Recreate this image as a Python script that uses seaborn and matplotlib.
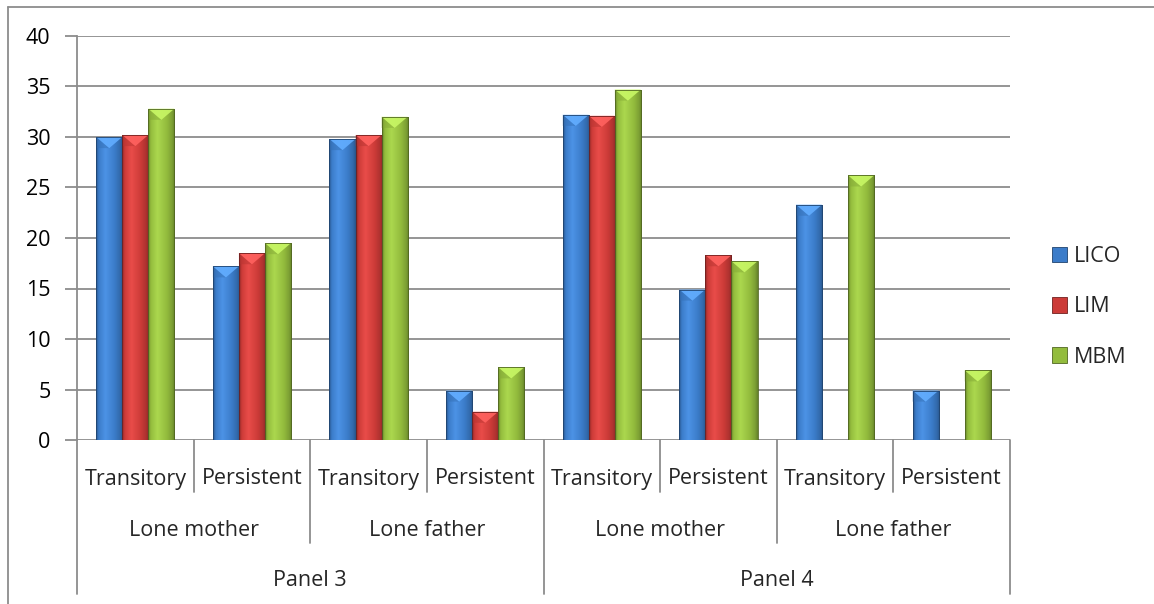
import numpy as np
import pandas as pd
import matplotlib
matplotlib.use("Agg")
import matplotlib.pyplot as plt
import seaborn as sns
from matplotlib.patches import Polygon, Patch
from matplotlib.lines import Line2D
from matplotlib.colors import LinearSegmentedColormap, to_rgb
import matplotlib.transforms as mtransforms

# --- data -----------------------------------------------------------------
panels = ["Panel 3", "Panel 4"]
families = ["Lone mother", "Lone father"]
durations = ["Transitory", "Persistent"]
series = ["LICO", "LIM", "MBM"]

lico = [30.0, 17.2, 29.8, 4.9, 32.2, 14.9, 23.3, 4.9]
lim = [30.2, 18.5, 30.2, 2.8, 32.1, 18.3, np.nan, np.nan]
mbm = [32.8, 19.5, 32.0, 7.2, 34.7, 17.7, 26.2, 6.9]

colors = ["#3b7cc9", "#cc3b38", "#93bc3d"]
y_ticks = [0, 5, 10, 15, 20, 25, 30, 35, 40]

# --- long table -------------------------------------------------------------
n_cells = len(panels) * len(families) * len(durations)
rows = []
for name, vals in zip(series, [lico, lim, mbm]):
    for cell, v in enumerate(vals):
        rows.append({"cell": cell, "series": name, "value": v})
df = pd.DataFrame(rows).dropna()

# --- figure -----------------------------------------------------------------
W, H = 1154, 604
fig = plt.figure(figsize=(W / 100, H / 100), dpi=100)
sns.set_style("white")
plt.rcParams["font.family"] = ["Open Sans", "DejaVu Sans"]
FS = 15.5

ax_left, ax_right, ax_top, ax_bottom = 77, 1010, 36, 440
ax = fig.add_axes([ax_left / W, 1 - ax_bottom / H,
                   (ax_right - ax_left) / W, (ax_bottom - ax_top) / H])

sns.barplot(data=df, x="cell", y="value", hue="series", hue_order=series,
            order=list(range(n_cells)), palette=colors, width=0.67,
            saturation=1, ax=ax, legend=True, zorder=3)

leg = ax.get_legend()
if leg is not None:
    leg.remove()

grid_col = "#8c8c8c"


def shade_bar(patch, base):
    x0, y0 = patch.get_x(), patch.get_y()
    w, h = patch.get_width(), patch.get_height()
    if not np.isfinite(h) or h <= 0:
        return
    rgb = np.array(to_rgb(base))
    dark = tuple(rgb * 0.68)
    mid_dark = tuple(rgb * 0.85)
    light = tuple(np.minimum(1, rgb * 1.08 + 0.05))
    cmap = LinearSegmentedColormap.from_list(
        "bevel", [(0.0, dark), (0.1, tuple(rgb)), (0.35, light),
                  (0.7, tuple(rgb)), (0.9, mid_dark), (1.0, dark)])
    grad = np.linspace(0, 1, 128).reshape(1, -1)
    im = ax.imshow(grad, cmap=cmap, extent=[x0, x0 + w, y0, y0 + h],
                   aspect="auto", zorder=3.1, interpolation="bilinear")
    im.set_clip_path(patch)
    patch.set_edgecolor(tuple(rgb * 0.55))
    patch.set_linewidth(0.6)
    patch.set_zorder(3.2)
    patch.set_facecolor("none")
    # bevelled top
    tip = min(1.1, h)
    top_col = tuple(np.minimum(1, rgb * 1.15 + 0.12))
    tri = Polygon([[x0, y0 + h], [x0 + w, y0 + h], [x0 + w / 2, y0 + h - tip]],
                  closed=True, facecolor=top_col, edgecolor="none",
                  zorder=3.15, alpha=0.9)
    ax.add_patch(tri)
    side = Polygon([[x0, y0 + h], [x0 + w / 2, y0 + h - tip], [x0, y0 + h - tip]],
                   closed=True, facecolor=tuple(rgb * 0.9), edgecolor="none",
                   zorder=3.12, alpha=0.5)
    ax.add_patch(side)


for container, col in zip(ax.containers, colors):
    for p in container:
        shade_bar(p, col)

ax.set_xlim(-0.5, n_cells - 0.5)
ax.set_ylim(0, 40)
ax.set_yticks(y_ticks)
ax.set_yticklabels([str(t) for t in y_ticks], fontsize=FS)
ax.set_xticks([])
ax.set_xlabel("")
ax.set_ylabel("")

ax.yaxis.grid(True, color=grid_col, linewidth=1.3, zorder=0)
ax.set_axisbelow(True)
for s in ["top", "right", "bottom"]:
    ax.spines[s].set_visible(False)
ax.spines["left"].set_color(grid_col)
ax.spines["left"].set_linewidth(1.3)
ax.tick_params(axis="y", length=9, width=1.3, color=grid_col, pad=10,
               labelcolor="black", left=True)

# --- multi-level category labels -------------------------------------------
trans = mtransforms.blended_transform_factory(ax.transData, ax.transAxes)
ax_h = ax_bottom - ax_top


def yfrac(px_below):
    return -px_below / ax_h


for cell in range(n_cells):
    ax.text(cell, yfrac(39), durations[cell % 2], transform=trans,
            ha="center", va="center", fontsize=FS, clip_on=False)
for g in range(len(panels) * len(families)):
    ax.text(2 * g + 0.5, yfrac(90), families[g % 2], transform=trans,
            ha="center", va="center", fontsize=FS, clip_on=False)
for p in range(len(panels)):
    ax.text(4 * p + 1.5, yfrac(140), panels[p], transform=trans,
            ha="center", va="center", fontsize=FS, clip_on=False)

for b in range(n_cells + 1):
    x = b - 0.5
    if b % 4 == 0:
        depth = 154
    elif b % 2 == 0:
        depth = 103
    else:
        depth = 52
    ax.add_line(Line2D([x, x], [0, yfrac(depth)], transform=trans,
                       color=grid_col, linewidth=1.3, clip_on=False))

# --- legend -------------------------------------------------------------------
handles = [Patch(facecolor=c, edgecolor=tuple(np.array(to_rgb(c)) * 0.55),
                 linewidth=0.6) for c in colors]
fig.legend(handles, series, loc="center left",
           bbox_to_anchor=(1052 / W, 1 - 307 / H), frameon=False,
           borderpad=0, borderaxespad=0,
           fontsize=FS, handlelength=0.7, handleheight=0.7,
           handletextpad=0.3, labelspacing=1.35)

# --- chart frame --------------------------------------------------------------
fig.add_artist(Line2D([8 / W, 8 / W], [0, 1 - 7 / H], transform=fig.transFigure,
                      color=grid_col, linewidth=1.3))
fig.add_artist(Line2D([8 / W, 1], [1 - 7 / H, 1 - 7 / H], transform=fig.transFigure,
                      color=grid_col, linewidth=1.3))

fig.savefig("out.png", dpi=100, facecolor="white")
